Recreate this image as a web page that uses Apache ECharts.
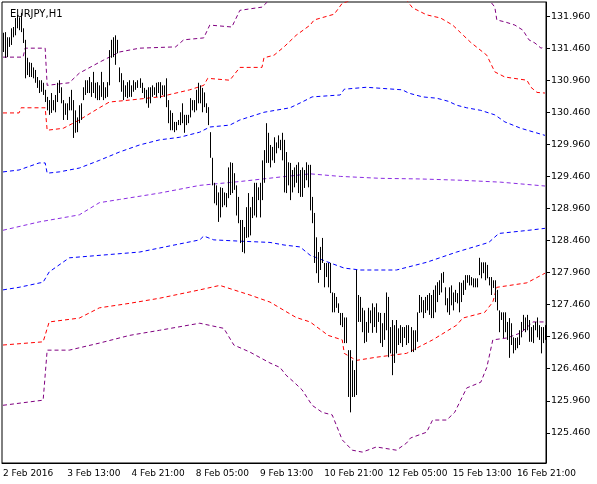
<!DOCTYPE html>
<html><head><meta charset="utf-8">
<script src="https://cdn.jsdelivr.net/npm/echarts@6/dist/echarts.min.js"></script>
<style>html,body{margin:0;padding:0;background:#fff}#c{width:597px;height:484px}</style>
</head><body><div id="c"></div>
<script>
const title = 'EURJPY,H1';
const xLabels = ['2 Feb 2016','3 Feb 13:00','4 Feb 21:00','8 Feb 05:00','9 Feb 13:00','10 Feb 21:00','12 Feb 05:00','15 Feb 13:00','16 Feb 21:00'];
const yTicks = [125.46,125.96,126.46,126.96,127.46,127.96,128.46,128.96,129.46,129.96,130.46,130.96,131.46,131.96];
const highs = [
131.70,131.71,131.63,131.63,131.77,131.79,131.93,131.98,131.94,132.01,131.77,131.59,131.31,131.24,131.23,131.16,131.12,131.01,130.96,130.96,130.92,130.81,130.70,130.65,130.76,130.65,130.73,130.92,130.96,130.85,130.65,130.60,130.60,130.70,130.81,130.65,130.49,130.38,130.57,130.60,130.85,130.96,130.96,131.01,130.93,131.09,130.92,130.93,130.88,131.09,130.93,130.85,130.93,131.43,131.59,131.63,131.66,131.59,131.16,131.07,130.96,130.88,130.93,130.96,130.88,130.96,130.93,130.96,
130.99,130.92,130.84,130.81,130.85,130.85,130.88,130.85,130.92,130.93,130.93,130.88,130.88,130.99,130.65,130.49,130.45,130.31,130.31,130.34,130.46,130.60,130.42,130.42,130.42,130.68,130.65,130.65,130.81,130.92,130.88,130.84,130.77,130.60,130.54,130.15,129.75,129.36,129.32,129.21,129.29,129.28,129.21,129.20,129.60,129.68,129.67,129.51,129.32,129.14,128.78,128.78,128.67,128.98,129.20,128.98,129.14,129.36,129.36,129.29,129.36,129.71,129.87,130.29,130.14,129.95,129.92,
130.07,129.99,130.10,130.03,130.14,130.03,129.84,129.68,129.67,129.56,129.60,129.64,129.68,129.56,129.60,129.56,129.68,129.64,129.64,129.14,128.89,128.51,128.28,128.36,128.50,128.11,128.11,128.11,128.11,127.65,127.64,127.58,127.48,127.33,127.33,127.26,127.26,126.75,126.75,126.59,126.44,128.00,127.61,127.58,127.41,127.37,127.19,127.41,127.37,127.48,127.42,127.48,127.34,127.33,127.17,127.33,127.65,127.58,127.11,127.22,127.14,127.22,127.09,127.14,127.11,127.11,127.14,
127.14,127.11,127.06,127.06,127.34,127.61,127.58,127.53,127.58,127.61,127.64,127.61,127.69,127.76,127.81,127.84,127.95,127.97,127.73,127.56,127.73,127.76,127.65,127.69,127.64,127.81,127.80,127.84,127.92,127.92,127.92,127.89,127.87,127.87,127.87,128.19,128.12,128.12,128.12,128.08,127.89,127.89,127.84,127.84,127.69,127.37,127.34,127.34,127.34,127.19,127.25,127.17,126.95,126.94,126.95,127.06,127.19,127.30,127.26,127.30,127.22,127.11,127.14,127.19,127.26,127.14,127.11,127.11,127.14];
const lows = [
131.40,131.31,131.32,131.48,131.51,131.63,131.66,131.77,131.74,131.71,131.54,130.99,131.04,131.01,131.01,130.99,130.92,130.84,130.76,130.78,130.73,130.62,130.49,130.42,130.45,130.49,130.46,130.62,130.76,130.60,130.34,130.42,130.34,130.49,130.49,130.06,130.14,130.15,130.29,130.34,130.65,130.73,130.76,130.76,130.70,130.76,130.68,130.65,130.65,130.70,130.65,130.68,130.70,130.88,131.31,131.32,131.20,131.38,130.93,130.78,130.65,130.70,130.68,130.70,130.70,130.78,130.81,130.84,
130.84,130.76,130.68,130.60,130.53,130.60,130.70,130.73,130.70,130.76,130.68,130.73,130.70,130.54,130.29,130.18,130.18,130.15,130.18,130.26,130.26,130.29,130.14,130.26,130.29,130.38,130.49,130.46,130.49,130.60,130.60,130.46,130.54,130.45,130.26,129.75,129.32,129.04,129.01,128.75,128.82,128.98,129.01,128.98,129.12,129.17,129.20,129.25,128.85,128.73,128.42,128.28,128.26,128.50,128.51,128.54,128.81,128.85,128.82,129.09,128.82,129.09,129.36,129.67,129.67,129.60,129.71,
129.67,129.82,129.90,129.87,129.71,129.21,129.20,129.32,129.09,129.21,129.29,129.36,129.20,129.14,129.14,129.28,129.40,129.29,128.93,128.73,128.11,127.95,127.80,128.00,128.11,127.73,127.89,127.73,127.64,127.34,127.34,127.41,127.33,127.14,127.11,126.86,126.86,126.02,125.78,126.02,126.02,126.05,127.19,127.19,127.03,126.86,126.88,127.02,127.17,127.02,127.11,127.02,127.19,126.86,126.80,126.91,127.06,126.64,126.70,126.36,126.55,126.70,126.83,126.86,126.80,126.94,126.83,
126.86,126.72,126.72,126.75,126.88,127.33,127.34,127.25,127.33,127.37,127.30,127.25,127.25,127.34,127.50,127.61,127.65,127.80,127.45,127.34,127.30,127.45,127.37,127.50,127.48,127.34,127.50,127.61,127.69,127.80,127.76,127.76,127.73,127.73,127.73,127.92,127.87,127.95,127.84,127.87,127.76,127.61,127.72,127.50,127.37,127.03,127.22,126.94,127.03,126.91,126.63,126.83,126.70,126.75,126.78,126.83,126.95,127.06,127.03,127.06,126.88,126.88,126.86,127.06,126.95,126.91,126.70,126.86,126.91];

const upperOuter = [[0,131.32],[10,131.32],[11,131.46],[21,131.46],[22,130.88],[33,130.92],[38,131.07],[48,131.24],[58,131.40],[68,131.46],[86,131.48],[90,131.59],[100,131.62],[103,131.82],[114,131.79],[118,132.05],[129,132.10],[138,132.37],[168,132.70],[208,132.65],[240,132.30],[245,132.10],[246,131.90],[250,131.87],[255,131.82],[259,131.74],[262,131.59],[265,131.54],[268,131.46],[270,131.48]];
const upperMid = [[0,130.45],[8,130.45],[9,130.53],[21,130.53],[22,130.18],[30,130.21],[38,130.34],[48,130.53],[53,130.62],[63,130.65],[78,130.70],[93,130.81],[100,130.88],[102,130.99],[113,130.96],[118,131.16],[129,131.16],[130,131.31],[135,131.35],[140,131.48],[146,131.66],[153,131.82],[155,131.90],[165,131.99],[169,132.16],[185,132.33],[201,132.21],[204,132.09],[211,131.98],[218,131.93],[224,131.82],[228,131.70],[233,131.55],[241,131.35],[245,131.09],[250,131.01],[261,130.96],[263,130.85],[266,130.77],[270,130.76]];
const upperInner = [[0,129.53],[8,129.56],[18,129.67],[21,129.67],[22,129.51],[28,129.53],[38,129.59],[48,129.71],[58,129.84],[68,129.95],[78,130.03],[88,130.07],[98,130.15],[103,130.23],[113,130.26],[118,130.34],[130,130.46],[143,130.53],[149,130.62],[154,130.70],[168,130.73],[170,130.82],[181,130.85],[199,130.81],[202,130.76],[209,130.70],[216,130.68],[222,130.63],[226,130.57],[231,130.53],[238,130.49],[245,130.42],[250,130.31],[258,130.21],[270,130.10]];
const middle = [[0,128.62],[18,128.75],[38,128.86],[48,129.05],[58,129.10],[78,129.20],[98,129.32],[118,129.38],[138,129.45],[153,129.50],[168,129.46],[188,129.43],[208,129.42],[228,129.40],[248,129.37],[270,129.31]];
const lowerInner = [[0,127.69],[8,127.73],[20,127.81],[23,127.97],[33,128.19],[68,128.28],[98,128.47],[100,128.53],[105,128.47],[118,128.45],[133,128.43],[140,128.39],[148,128.36],[153,128.23],[163,128.11],[170,128.03],[178,128.00],[196,128.00],[211,128.12],[226,128.28],[242,128.43],[247,128.57],[262,128.62],[270,128.65]];
const lowerMid = [[0,126.83],[20,126.88],[23,127.19],[38,127.25],[48,127.41],[63,127.48],[78,127.56],[98,127.69],[108,127.76],[123,127.61],[133,127.50],[140,127.37],[146,127.26],[153,127.19],[162,126.98],[169,126.91],[170,126.70],[176,126.59],[186,126.64],[201,126.70],[214,126.91],[226,127.14],[229,127.25],[240,127.34],[244,127.50],[246,127.73],[261,127.80],[270,127.95]];
const lowerOuter = [[0,125.89],[20,125.97],[22,126.75],[33,126.75],[48,126.86],[63,126.98],[78,127.06],[98,127.17],[110,127.09],[115,126.83],[123,126.72],[133,126.55],[138,126.48],[141,126.36],[145,126.25],[149,126.13],[154,125.89],[159,125.78],[164,125.74],[169,125.35],[174,125.19],[179,125.16],[186,125.24],[196,125.19],[201,125.30],[203,125.38],[211,125.47],[214,125.66],[221,125.66],[225,125.78],[228,125.97],[231,126.16],[238,126.25],[241,126.48],[244,126.91],[251,126.94],[258,127.02],[264,127.19],[270,127.19]];

const cats = highs.map((_, i) => String(i));
const bars = highs.map((h, i) => [i, h, lows[i]]);

function env(data, color) {
  return {type:'line', data, symbol:'none', silent:true, animation:false,
    lineStyle:{color, width:1, type:[4,3]}, z:2};
}

const chart = echarts.init(document.getElementById('c'));
chart.setOption({
  animation:false,
  backgroundColor:'#fff',
  title:{text:title, left:5, top:4, textStyle:{fontSize:10, fontWeight:'normal', color:'#000', fontFamily:'DejaVu Sans'}},
  grid:{left:2, right:51, top:2, bottom:21, show:true, borderColor:'#000', borderWidth:1},
  xAxis:{type:'category', data:cats, boundaryGap:true,
    axisLine:{lineStyle:{color:'#000'}},
    axisTick:{interval:(i)=>i%32===0, alignWithLabel:true, length:4, lineStyle:{color:'#000'}},
    axisLabel:{interval:(i)=>i%32===0, formatter:(v,i)=>xLabels[i/32]||'', align:'left', margin:6,
      hideOverlap:false, showMaxLabel:true, fontSize:9, color:'#000', fontFamily:'DejaVu Sans'},
    splitLine:{show:false}},
  yAxis:{type:'value', position:'right', min:124.99, max:132.18, scale:true,
    axisLine:{show:true, lineStyle:{color:'#000'}},
    axisTick:{show:true, customValues:yTicks, length:4, inside:false, lineStyle:{color:'#000'}},
    axisLabel:{customValues:yTicks, formatter:(v)=>v.toFixed(3), fontSize:9.5, color:'#000', margin:5, fontFamily:'DejaVu Sans'},
    splitLine:{show:false}},
  series:[
    env(upperOuter,'#800080'), env(upperMid,'#ff0000'), env(upperInner,'#0000ff'),
    env(middle,'#8a2be2'),
    env(lowerInner,'#0000ff'), env(lowerMid,'#ff0000'), env(lowerOuter,'#800080'),
    {type:'custom', data:bars, z:5, clip:true,
      renderItem:(params, api)=>{
        const a = api.coord([api.value(0), api.value(1)]);
        const b = api.coord([api.value(0), api.value(2)]);
        const x = Math.round(a[0]) + 0.5;
        return {type:'line', shape:{x1:x, y1:a[1], x2:x, y2:b[1]}, style:{stroke:'#000', lineWidth:1}};
      }}
  ]
});
</script></body></html>
